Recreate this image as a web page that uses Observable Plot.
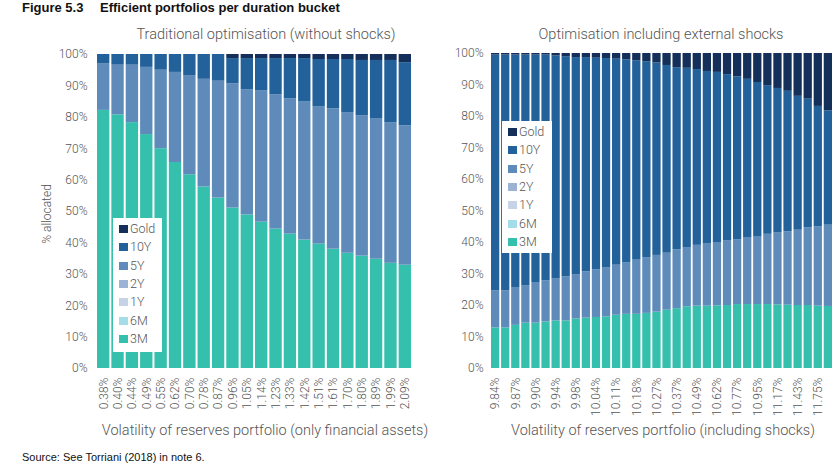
<!DOCTYPE html>
<html><head><meta charset="utf-8">
<script src="https://cdn.jsdelivr.net/npm/d3@7"></script>
<script src="https://cdn.jsdelivr.net/npm/@observablehq/plot@0.6"></script>
<style>
body{margin:0;background:#fff;}
#wrap{position:relative;width:832px;height:469px;overflow:hidden;font-family:Roboto,"Liberation Sans",Arial,sans-serif;}
.abs{position:absolute;white-space:nowrap;}
.title{font-family:"Liberation Sans",Arial,sans-serif;font-weight:bold;font-size:13px;color:#111;top:0px;}
.sub{font-weight:300;font-size:14.5px;color:#555;transform:translateX(-50%);}
.legend{background:#fff;}
.item{position:absolute;left:6px;font-size:12.5px;font-weight:300;color:#555;line-height:14px;}
.sw{display:inline-block;width:9px;height:8px;margin-right:2px;vertical-align:-0px;}
</style></head><body><div id="wrap"></div>
<script>
const buckets = ["3M", "6M", "1Y", "2Y", "5Y", "10Y", "Gold"];
const bucketColors = ["#35bfad", "#a5dcea", "#c6d3e6", "#9cb3d3", "#5e8bba", "#23619b", "#14305a"];
const yTickValues = [0, 10, 20, 30, 40, 50, 60, 70, 80, 90, 100];

const leftLabels = ["0.38%","0.40%","0.44%","0.49%","0.55%","0.62%","0.70%","0.78%","0.87%","0.96%","1.05%","1.14%","1.23%","1.33%","1.42%","1.51%","1.61%","1.70%","1.80%","1.89%","1.99%","2.09%"];
const left3M   = [82.2, 80.8, 78.3, 74.5, 70.0, 65.6, 61.7, 57.8, 54.3, 51.1, 48.9, 46.6, 44.4, 42.8, 40.9, 39.6, 38.0, 36.7, 35.8, 34.8, 33.5, 32.9];
const left5Y   = [14.9, 15.8, 18.3, 21.4, 25.0, 28.7, 31.6, 34.3, 37.2, 39.6, 39.9, 41.9, 42.8, 43.1, 44.1, 43.8, 44.7, 44.8, 44.7, 44.8, 44.8, 44.4];
const left10Y  = [2.9, 3.4, 3.4, 4.1, 5.0, 5.7, 6.7, 7.9, 8.5, 8.0, 9.9, 10.2, 11.5, 12.8, 13.7, 15.0, 15.7, 16.9, 17.6, 18.5, 19.8, 20.1];
const leftGold = [0, 0, 0, 0, 0, 0, 0, 0, 0, 1.3, 1.3, 1.3, 1.3, 1.3, 1.3, 1.6, 1.6, 1.6, 1.9, 1.9, 1.9, 2.6];

// right panel: 34 bars, a label under every other bar
const rightLabels = ["9.84%","9.87%","9.90%","9.94%","9.98%","10.04%","10.11%","10.18%","10.27%","10.37%","10.49%","10.62%","10.77%","10.95%","11.17%","11.43%","11.75%"];
const right3M   = [12.9, 12.9, 13.7, 14.4, 14.4, 14.8, 15.1, 15.1, 15.7, 16.0, 16.2, 16.4, 16.9, 17.2, 17.2, 17.5, 17.9, 18.5, 19.0, 19.6, 19.8, 19.8, 19.9, 20.0, 20.3, 20.3, 20.3, 20.3, 20.2, 20.1, 20.0, 20.0, 19.8, 19.7];
const right5Y   = [11.8, 11.8, 12.0, 11.9, 12.9, 13.0, 13.3, 14.0, 14.1, 14.7, 15.1, 15.5, 15.9, 16.3, 17.2, 17.7, 18.0, 18.1, 18.7, 18.8, 19.3, 19.7, 20.1, 20.6, 20.6, 21.1, 21.6, 22.3, 22.8, 23.3, 23.9, 24.7, 25.2, 25.8];
const right10Y  = [74.8, 74.8, 73.8, 73.2, 72.2, 71.7, 70.8, 69.9, 68.9, 68.0, 67.2, 66.5, 65.4, 64.5, 63.3, 62.2, 61.1, 59.6, 57.8, 56.9, 55.8, 54.8, 54.0, 52.7, 51.7, 50.4, 48.9, 47.2, 45.9, 44.6, 42.5, 40.8, 38.2, 36.3];
const rightGold = [0.5, 0.5, 0.5, 0.5, 0.5, 0.5, 0.8, 1.0, 1.3, 1.3, 1.5, 1.6, 1.8, 2.0, 2.3, 2.6, 3.0, 3.8, 4.5, 4.7, 5.1, 5.7, 6.0, 6.7, 7.4, 8.2, 9.2, 10.2, 11.1, 12.0, 13.6, 14.5, 16.8, 18.2];

function rows(series) {
  const out = [];
  const n = series["3M"].length;
  for (let i = 0; i < n; i++) {
    for (const b of buckets) {
      if (series[b]) out.push({i, bucket: b, value: series[b][i]});
    }
  }
  return out;
}
const leftData = rows({"3M": left3M, "5Y": left5Y, "10Y": left10Y, "Gold": leftGold});
const rightData = rows({"3M": right3M, "5Y": right5Y, "10Y": right10Y, "Gold": rightGold});

const axisStyle = {fontFamily: "Roboto, 'Liberation Sans', Arial, sans-serif", fontSize: "12px", fontWeight: 300, color: "#555", background: "transparent", overflow: "visible", maxWidth: "none"};

function chart(data, n, tickIdx, opts) {
  return Plot.plot({
    width: opts.width, height: 379,
    marginLeft: opts.ml, marginRight: opts.mr, marginTop: opts.mt, marginBottom: 55,
    style: axisStyle,
    x: {type: "band", domain: d3.range(n), paddingInner: opts.pad, paddingOuter: 0, round: false, axis: null},
    y: {domain: [0, 100], axis: null},
    color: {domain: buckets, range: bucketColors},
    marks: [
      Plot.barY(data, {x: "i", y: "value", fill: "bucket", order: buckets}),
      Plot.axisX({ticks: tickIdx, tickRotate: -90, tickSize: 0, tickPadding: 9, tickFormat: opts.fmt, fill: "#555", label: null}),
      Plot.axisY({ticks: yTickValues, tickSize: 0, tickPadding: opts.yp, tickFormat: d => d + "%", label: null, fill: "#555"})
    ]
  });
}

const wrap = document.getElementById("wrap");
function addAbs(el, left, top) { el.style.position = "absolute"; el.style.left = left + "px"; el.style.top = top + "px"; wrap.appendChild(el); }

const L = chart(leftData, left3M.length, d3.range(leftLabels.length), {width: 420, ml: 97, mr: 9, mt: 10, pad: 0.14, yp: 10, fmt: i => leftLabels[i]});
addAbs(L, 0, 44);
const R = chart(rightData, right3M.length, d3.range(0, 2 * rightLabels.length, 2), {width: 412, ml: 71, mr: 0, mt: 9, pad: 0.18, yp: 8, fmt: i => rightLabels[i / 2]});
addAbs(R, 420, 44);

function text(html, cls, left, top, extra) {
  const d = document.createElement("div");
  d.className = "abs " + cls; d.innerHTML = html;
  d.style.left = left + "px"; d.style.top = top + "px";
  if (extra) Object.assign(d.style, extra);
  wrap.appendChild(d); return d;
}
text("Figure 5.3", "title", 22, 0);
text("Efficient portfolios per duration bucket", "title", 100, 0);
text("Traditional optimisation (without shocks)", "sub", 266, 26);
text("Optimisation including external shocks", "sub", 661, 26);
text("Volatility of reserves portfolio (only financial assets)", "sub", 265, 422);
text("Volatility of reserves portfolio (including shocks)", "sub", 663, 422);
text("% allocated", "", 47, 214, {fontSize: "12px", fontWeight: 300, color: "#555", transform: "translate(-50%,-50%) rotate(-90deg)"});
text("Source: See Torriani (2018) in note 6.", "", 22, 451, {fontFamily: "'Liberation Sans', Arial, sans-serif", fontSize: "11px", color: "#111"});

function legend(left, top, w, h) {
  const box = document.createElement("div");
  box.className = "legend";
  Object.assign(box.style, {position: "absolute", left: left + "px", top: top + "px", width: w + "px", height: h + "px"});
  const order = buckets.slice().reverse();
  order.forEach((b, k) => {
    const it = document.createElement("div");
    it.className = "item";
    it.style.top = (4 + k * 18.35) + "px";
    it.innerHTML = `<span class="sw" style="background:${bucketColors[buckets.indexOf(b)]}"></span>${b}`;
    box.appendChild(it);
  });
  wrap.appendChild(box);
}
legend(113, 218, 49, 134);
legend(502, 121, 50, 132);
</script></body></html>
